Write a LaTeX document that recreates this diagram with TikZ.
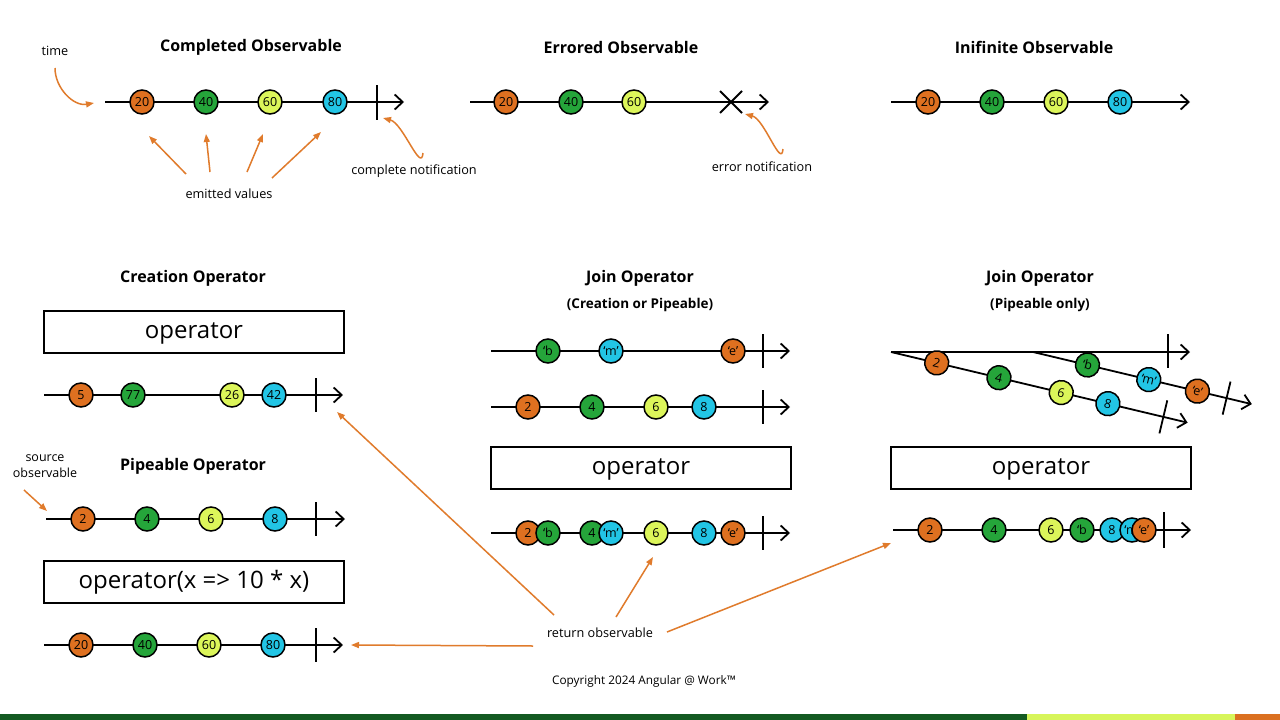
\documentclass[tikz,border=0pt]{standalone}
\usepackage{fontspec}
\setmainfont{Open Sans}
\usetikzlibrary{arrows.meta}
\definecolor{mOr}{HTML}{DE7020}
\definecolor{mGr}{HTML}{25A53A}
\definecolor{mYg}{HTML}{DCF55A}
\definecolor{mCy}{HTML}{22C5E5}
\definecolor{aOr}{HTML}{E07B2C}
\definecolor{barG}{HTML}{145A22}
\definecolor{barY}{HTML}{D7F55A}
\definecolor{barO}{HTML}{DB7020}
\begin{document}
\begin{tikzpicture}[x=1pt,y=-1pt,
  tl/.style={line width=1.8pt,-{Straight Barb[length=8pt,width=15pt,line width=1.8pt]}},
  tick/.style={line width=1.8pt},
  marble/.style={circle,draw,line width=1.5pt,minimum size=24pt,inner sep=0pt,font=\fontsize{12.5}{13}\selectfont},
  oarrow/.style={draw=aOr,line width=1.5pt,-{Triangle[length=8pt,width=6pt]}},
  ttl/.style={font=\bfseries\fontsize{16}{18}\selectfont},
  sub/.style={font=\bfseries\fontsize{13.5}{15}\selectfont},
  lbl/.style={font=\fontsize{12.7}{15}\selectfont,align=center},
  opbox/.style={draw,line width=1.5pt,minimum width=300pt,minimum height=42pt,inner sep=0pt,text height=12pt,text depth=0pt,font=\fontsize{24}{26}\selectfont}
]
\useasboundingbox (0,0) rectangle (1280,720);
\fill[white] (0,0) rectangle (1280,720);

% ---------- Completed Observable ----------
\node[ttl] (t1) at (251,47.5) {Completed Observable};
\node[lbl] (ltime) at (55,51) {time};
\coordinate (c1s) at (105,102); \coordinate (c1e) at (404,102);
\draw[tl] (c1s) -- (c1e);
\draw[tick] (377,85) -- (377,120);
\node[marble,fill=mOr] (c1a) at (142,102) {20};
\node[marble,fill=mGr] (c1b) at (206,102) {40};
\node[marble,fill=mYg] (c1c) at (270,102) {60};
\node[marble,fill=mCy] (c1d) at (335,102) {80};
\coordinate (timeA) at (55,68); \coordinate (timeB) at (94,103);
\draw[oarrow] (timeA) to[out=-90,in=190] (timeB);
\node[lbl] (lemit) at (229,194) {emitted values};
\coordinate (e1s) at (186,174); \coordinate (e1e) at (149,136);
\coordinate (e2s) at (210,172); \coordinate (e2e) at (206,134);
\coordinate (e3s) at (247,172); \coordinate (e3e) at (263,134);
\coordinate (e4s) at (272,178); \coordinate (e4e) at (321,132);
\draw[oarrow] (e1s) -- (e1e);
\draw[oarrow] (e2s) -- (e2e);
\draw[oarrow] (e3s) -- (e3e);
\draw[oarrow] (e4s) -- (e4e);
\node[lbl] (lcomp) at (414,171) {complete notification};
\coordinate (cnA) at (423,153); \coordinate (cnB) at (383,118);
\draw[oarrow] (cnA) to[out=-95,in=-15] (cnB);

% ---------- Errored Observable ----------
\node[ttl] (t2) at (621,47.5) {Errored Observable};
\coordinate (c2s) at (470,102); \coordinate (c2e) at (769,102);
\draw[tl] (c2s) -- (c2e);
\draw[tick] (720,91) -- (742,113);
\draw[tick] (720,113) -- (742,91);
\node[marble,fill=mOr] (c2a) at (506,102) {20};
\node[marble,fill=mGr] (c2b) at (571,102) {40};
\node[marble,fill=mYg] (c2c) at (634,102) {60};
\node[lbl] (lerr) at (762,167) {error notification};
\coordinate (enA) at (783,149); \coordinate (enB) at (745,114);
\draw[oarrow] (enA) to[out=-95,in=-15] (enB);

% ---------- Infinite Observable ----------
\node[ttl] (t3) at (1034,47.5) {Inifinite Observable};
\coordinate (c3s) at (891,102); \coordinate (c3e) at (1190,102);
\draw[tl] (c3s) -- (c3e);
\node[marble,fill=mOr] (c3a) at (928,102) {20};
\node[marble,fill=mGr] (c3b) at (992,102) {40};
\node[marble,fill=mYg] (c3c) at (1056,102) {60};
\node[marble,fill=mCy] (c3d) at (1120,102) {80};

% ---------- Creation Operator ----------
\node[ttl] (t4) at (193,278.5) {Creation Operator};
\node[opbox] (op1) at (194,332) {operator};
\coordinate (c4s) at (44,395); \coordinate (c4e) at (343,395);
\draw[tl] (c4s) -- (c4e);
\draw[tick] (316,378) -- (316,412);
\node[marble,fill=mOr] (c4a) at (81,395) {5};
\node[marble,fill=mGr] (c4b) at (133,395) {77};
\node[marble,fill=mYg] (c4c) at (232,395) {26};
\node[marble,fill=mCy] (c4d) at (274,395) {42};

% ---------- Pipeable Operator ----------
\node[ttl] (t5) at (193,466.5) {Pipeable Operator};
\node[lbl,font=\fontsize{12.5}{15.5}\selectfont] (lsrc) at (45,466) {source\\observable};
\coordinate (srcA) at (24,490); \coordinate (srcB) at (47,511);
\draw[oarrow] (srcA) -- (srcB);
\coordinate (c5s) at (46,519); \coordinate (c5e) at (345,519);
\draw[tl] (c5s) -- (c5e);
\draw[tick] (316,502) -- (316,536);
\node[marble,fill=mOr] (c5a) at (83,519) {2};
\node[marble,fill=mGr] (c5b) at (147,519) {4};
\node[marble,fill=mYg] (c5c) at (211,519) {6};
\node[marble,fill=mCy] (c5d) at (275,519) {8};
\node[opbox] (op2) at (194,582) {operator(x => 10 * x)};
\coordinate (c6s) at (44,645); \coordinate (c6e) at (343,645);
\draw[tl] (c6s) -- (c6e);
\draw[tick] (316,628) -- (316,662);
\node[marble,fill=mOr] (c6a) at (81,645) {20};
\node[marble,fill=mGr] (c6b) at (145,645) {40};
\node[marble,fill=mYg] (c6c) at (209,645) {60};
\node[marble,fill=mCy] (c6d) at (273,645) {80};

% ---------- Join Operator (Creation or Pipeable) ----------
\node[ttl] (t6) at (640,278.5) {Join Operator};
\node[sub] (s6) at (640,305) {(Creation or Pipeable)};
\coordinate (c7s) at (491,351); \coordinate (c7e) at (790,351);
\draw[tl] (c7s) -- (c7e);
\draw[tick] (763,334) -- (763,368);
\node[marble,fill=mGr] (c7a) at (548,351) {‘b};
\node[marble,fill=mCy] (c7b) at (611,351) {‘m’};
\node[marble,fill=mOr] (c7c) at (733,351) {‘e’};
\coordinate (c8s) at (491,407); \coordinate (c8e) at (790,407);
\draw[tl] (c8s) -- (c8e);
\draw[tick] (763,390) -- (763,424);
\node[marble,fill=mOr] (c8a) at (528,407) {2};
\node[marble,fill=mGr] (c8b) at (592,407) {4};
\node[marble,fill=mYg] (c8c) at (656,407) {6};
\node[marble,fill=mCy] (c8d) at (704,407) {8};
\node[opbox] (op3) at (641,468) {operator};
\coordinate (c9s) at (491,533); \coordinate (c9e) at (790,533);
\draw[tl] (c9s) -- (c9e);
\draw[tick] (763,516) -- (763,550);
\node[marble,fill=mOr] (c9a) at (528,533) {2};
\node[marble,fill=mGr] (c9b) at (548,533) {‘b};
\node[marble,fill=mGr] (c9c) at (592,533) {4};
\node[marble,fill=mCy] (c9d) at (611,533) {‘m’};
\node[marble,fill=mYg] (c9e) at (656,533) {6};
\node[marble,fill=mCy] (c9f) at (704,533) {8};
\node[marble,fill=mOr] (c9g) at (733,533) {‘e’};

% ---------- Join Operator (Pipeable only) ----------
\node[ttl] (t7) at (1040,278.5) {Join Operator};
\node[sub] (s7) at (1040,305) {(Pipeable only)};
\coordinate (c10s) at (891,352); \coordinate (c10e) at (1190,352);
\draw[tl] (c10s) -- (c10e);
\draw[tick] (1168,334) -- (1168,368);
\begin{scope}[shift={(891,352)},rotate=-13.4,transform shape]
  \coordinate (d1s) at (0,0); \coordinate (d1e) at (305,0);
  \draw[tl] (d1s) -- (d1e);
  \draw[tick] (280,-17) -- (280,17);
  \node[marble,fill=mOr] (d1a) at (47,0) {2};
  \node[marble,fill=mGr] (d1b) at (111,0) {4};
  \node[marble,fill=mYg] (d1c) at (175,0) {6};
  \node[marble,fill=mCy] (d1d) at (223,0) {8};
\end{scope}
\begin{scope}[shift={(1033,352)},rotate=-13.4,transform shape]
  \coordinate (d2s) at (0,0); \coordinate (d2e) at (225,0);
  \draw[tl] (d2s) -- (d2e);
  \draw[tick] (199,-17) -- (199,17);
  \node[marble,fill=mGr] (d2a) at (56,0) {‘b};
  \node[marble,fill=mCy] (d2b) at (119,0) {‘m’};
  \node[marble,fill=mOr] (d2c) at (169,0) {‘e’};
\end{scope}
\node[opbox] (op4) at (1041,468) {operator};
\coordinate (c11s) at (893,530); \coordinate (c11e) at (1191,530);
\draw[tl] (c11s) -- (c11e);
\draw[tick] (1164,512) -- (1164,548);
\node[marble,fill=mOr] (c11a) at (930,530) {2};
\node[marble,fill=mGr] (c11b) at (994,530) {4};
\node[marble,fill=mYg] (c11c) at (1051,530) {6};
\node[marble,fill=mGr] (c11d) at (1082,530) {‘b};
\node[marble,fill=mCy] (c11e2) at (1112,530) {8};
\node[marble,fill=mCy] (c11f) at (1132,530) {‘m’};
\node[marble,fill=mOr] (c11g) at (1144,530) {‘e’};

% ---------- return observable ----------
\node[lbl] (lret) at (600,633) {return observable};
\coordinate (r1s) at (554,615); \coordinate (r1e) at (337,412);
\coordinate (r2s) at (616,617); \coordinate (r2e) at (653,557);
\coordinate (r3s) at (667,632); \coordinate (r3e) at (891,543);
\coordinate (r4s) at (533,646); \coordinate (r4e) at (351,645);
\draw[oarrow] (r1s) -- (r1e);
\draw[oarrow] (r2s) -- (r2e);
\draw[oarrow] (r3s) -- (r3e);
\draw[oarrow] (r4s) -- (r4e);

\node[font=\fontsize{11.8}{13}\selectfont] (copy) at (644,681) {Copyright 2024 Angular @ Work™};

% ---------- bottom bar ----------
\fill[barG] (0,714) rectangle (1027,720);
\fill[barY] (1027,714) rectangle (1235,720);
\fill[barO] (1235,714) rectangle (1280,720);
\end{tikzpicture}
\end{document}
